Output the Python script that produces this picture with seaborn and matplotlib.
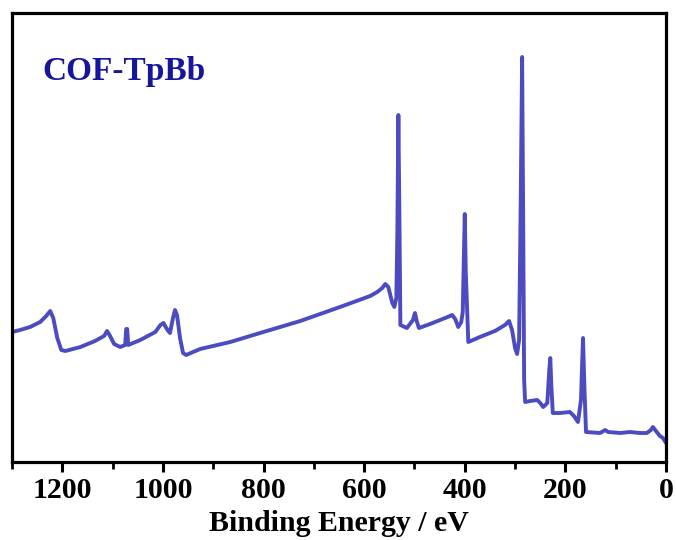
import matplotlib
matplotlib.use("Agg")
import matplotlib.pyplot as plt
import seaborn as sns
import pandas as pd
from matplotlib.ticker import MultipleLocator

# Binding energy (eV) and intensity (a.u.)
binding_energy = [1300, 1284, 1264, 1244, 1232, 1224, 1218, 1210, 1202, 1194,
                  1164, 1135, 1117, 1111, 1105, 1097, 1085, 1075, 1073, 1071,
                  1069, 1045, 1015, 1005, 999, 991, 986, 980, 976, 972,
                  966, 960, 954, 926, 866, 807, 727, 648, 588, 574,
                  564, 558, 552, 544, 540, 536, 534, 532, 530, 528,
                  515, 503, 499, 495, 491, 469, 439, 425, 419, 413,
                  407, 404, 402, 400, 398, 393, 370, 340, 320, 312,
                  306, 300, 296, 292, 289, 286, 284, 282, 280, 270,
                  256, 250, 244, 236, 232, 230, 228, 225, 211, 191,
                  183, 175, 169, 165, 162, 159, 131, 121, 115, 91,
                  72, 52, 38, 30, 26, 20, 12, 6, 0]
intensity = [130, 132, 135, 140, 146, 151, 144, 124, 112, 111,
             115, 121, 126, 131, 126, 118, 115, 117, 133, 133,
             117, 122, 130, 137, 139, 132, 129, 144, 152, 147,
             124, 109, 107, 113, 120, 129, 141, 155, 166, 170,
             174, 178, 175, 159, 155, 164, 230, 347, 250, 137,
             134, 142, 149, 140, 134, 138, 144, 147, 143, 135,
             140, 150, 200, 248, 190, 120, 125, 131, 137, 141,
             132, 114, 108, 122, 250, 405, 250, 82, 60, 61,
             62, 59, 55, 59, 92, 104, 77, 49, 49, 50,
             46, 40, 62, 124, 72, 30, 29, 32, 30, 29,
             30, 29, 29, 32, 35, 31, 26, 24, 19]

x_ticks = [1200, 1000, 800, 600, 400, 200, 0]
sample_label = "COF-TpBb"
x_label = "Binding Energy / eV"

df = pd.DataFrame({"be": binding_energy, "counts": intensity})

sns.set_theme(style="white")
plt.rcParams["font.family"] = ["Liberation Serif", "DejaVu Serif"]
plt.rcParams["font.weight"] = "bold"
plt.rcParams["text.color"] = "black"
plt.rcParams["axes.labelcolor"] = "black"
plt.rcParams["xtick.color"] = "black"

fig = plt.figure(figsize=(6.76, 5.40), dpi=100)
ax = fig.add_axes([12 / 676, (540 - 462) / 540, (666 - 12) / 676, (462 - 13) / 540])

sns.lineplot(data=df, x="be", y="counts", ax=ax, sort=False, estimator=None,
             color="#4c4cc0", linewidth=2.8)

ax.set_xlim(1300, 0)
ax.set_ylim(0, 449)
ax.set_xticks(x_ticks)
ax.xaxis.set_minor_locator(MultipleLocator(100))
ax.set_yticks([])
ax.set_ylabel("")
ax.set_xlabel(x_label, fontsize=21.5, fontweight="bold", labelpad=4, color="black")

ax.tick_params(axis="x", which="major", direction="out", length=7, width=2.2,
               labelsize=21.5, pad=4, bottom=True, colors="black", labelcolor="black")
ax.tick_params(axis="x", which="minor", direction="out", length=5, width=2.0,
               bottom=True, colors="black")
for lab in ax.get_xticklabels():
    lab.set_fontweight("bold")

for s in ax.spines.values():
    s.set_visible(True)
    s.set_linewidth(2.3)
    s.set_color("black")

ax.text(0.047, (462 - 80) / 449, sample_label, transform=ax.transAxes, fontsize=24,
        fontweight="bold", color="#16169c", ha="left", va="baseline")

fig.savefig("out.png", dpi=100, facecolor="white")
